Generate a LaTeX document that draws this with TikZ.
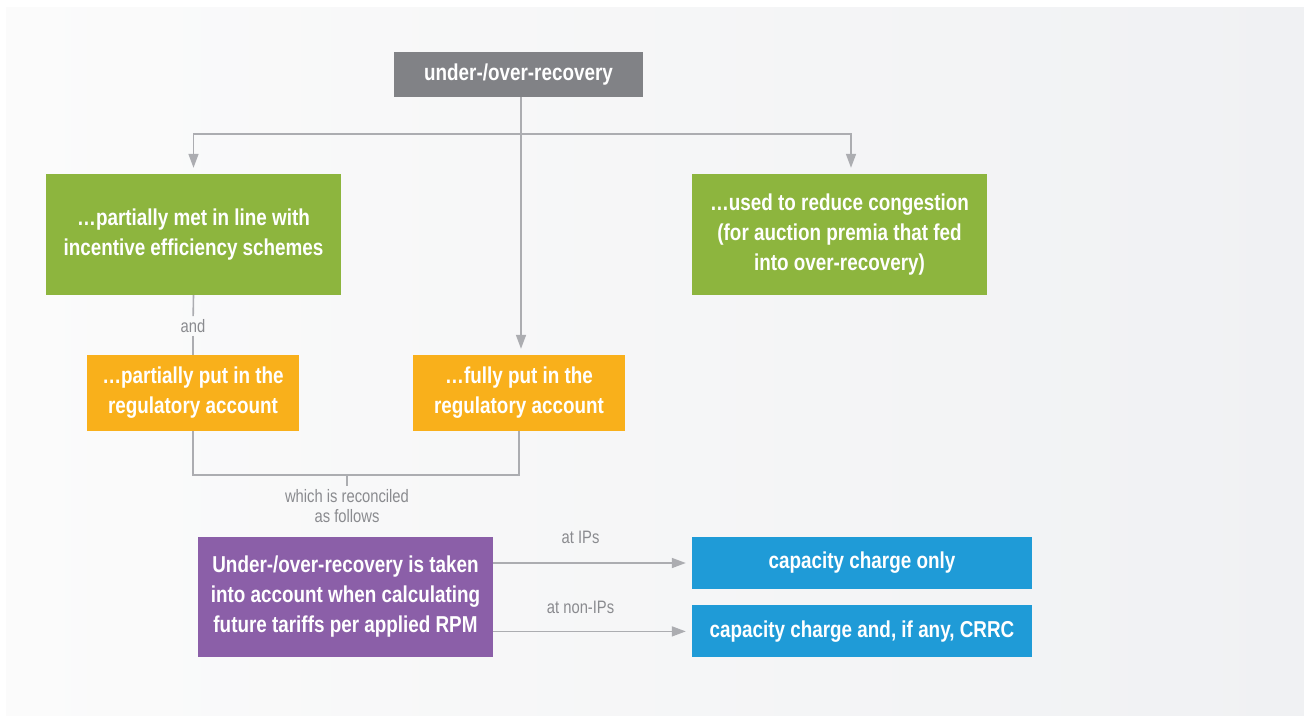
\documentclass[tikz,border=0pt]{standalone}
\usepackage{fontspec}
\setmainfont{Liberation Sans}[FakeStretch=0.82]
\usetikzlibrary{arrows.meta, positioning, calc}
\definecolor{palgray}{RGB}{129,130,134}
\definecolor{palgreen}{RGB}{141,181,62}
\definecolor{palorange}{RGB}{249,176,27}
\definecolor{palpurple}{RGB}{139,95,168}
\definecolor{palblue}{RGB}{31,155,215}
\definecolor{palline}{RGB}{172,173,177}
\definecolor{palink}{RGB}{138,139,143}
\definecolor{palbgleft}{RGB}{251,251,251}
\definecolor{palbgright}{RGB}{240,241,243}
\tikzset{
  block/.style={
    draw=none,
    align=center,
    inner sep=0pt,
    font=\fontsize{23}{30}\selectfont\bfseries,
    text=white
  },
  topblock/.style={block, fill=palgray, minimum width=249pt, minimum height=45pt},
  greenblock/.style={block, fill=palgreen, minimum width=295pt, minimum height=121pt},
  orangeblock/.style={block, fill=palorange, minimum width=212pt, minimum height=76pt},
  purpleblock/.style={block, fill=palpurple, minimum width=295pt, minimum height=120pt},
  blueblock/.style={block, fill=palblue, minimum width=340pt, minimum height=52pt},
  conn/.style={draw=palline, line width=1.6pt},
  arrow/.style={conn, -{Triangle[length=14pt, width=10pt]}, shorten >=6pt},
  lbl/.style={font=\fontsize{18}{20}\selectfont, text=palink, align=center, inner sep=3pt}
}

\begin{document}
\begin{tikzpicture}[x=1pt, y=-1pt]
        \useasboundingbox (0,0) rectangle (1304,715);
        \fill[white] (0,0) rectangle (1304,715);
        \shade[left color=palbgleft, right color=palbgright] (6,7) rectangle (1304,715);

        \node[topblock] (top) at (518.5,74.5) {under-/over-recovery};
        \node[greenblock] (met) at (193.5,234.5) {\dots partially met in line with\\incentive efficiency schemes};
        \node[greenblock] (cong) at (839.5,234.5) {\dots used to reduce congestion\\(for auction premia that fed\\into over-recovery)};
        \node[orangeblock] (partacc) at (193,393) {\dots partially put in the\\regulatory account};
        \node[orangeblock] (fullacc) at (519,393) {\dots fully put in the\\regulatory account};
        \node[purpleblock] (rpm) at (345.5,597) {Under-/over-recovery is taken\\into account when calculating\\future tariffs per applied RPM};
        \node[blueblock] (ccip) at (862,563) {capacity charge only};
        \node[blueblock, below=16pt of ccip] (ccnon) {capacity charge and, if any, CRRC};

        \coordinate (hub) at (521,134);
        \coordinate (congin) at ([xshift=11.5pt]cong.north);
        \draw[conn] (top.south -| hub) -- (hub);
        \draw[arrow] (hub) -| (met.north);
        \draw[arrow] (hub) -| (congin);
        \draw[arrow] (hub) -- (hub |- fullacc.north);

        \node[lbl] (andlbl) at (193,326) {and};
        \draw[conn] (met.south) -- (andlbl);
        \draw[conn] (andlbl) -- (partacc.north);

        % reconciliation bracket
        \coordinate (join) at (347,475);
        \draw[conn] (partacc.south) |- (join) -| (fullacc.south);
        \node[lbl, below=11pt of join] (reclbl) {which is reconciled\\as follows};
        \draw[conn] (join) -- (reclbl.north);

        \draw[arrow] (rpm.east |- ccip) -- node[lbl, pos=0.44, yshift=26pt] (iplbl) {at IPs} (ccip.west);
        \draw[arrow] (rpm.east |- ccnon) -- node[lbl, pos=0.44, yshift=24pt] (nonlbl) {at non-IPs} (ccnon.west);
      \end{tikzpicture}
\end{document}
